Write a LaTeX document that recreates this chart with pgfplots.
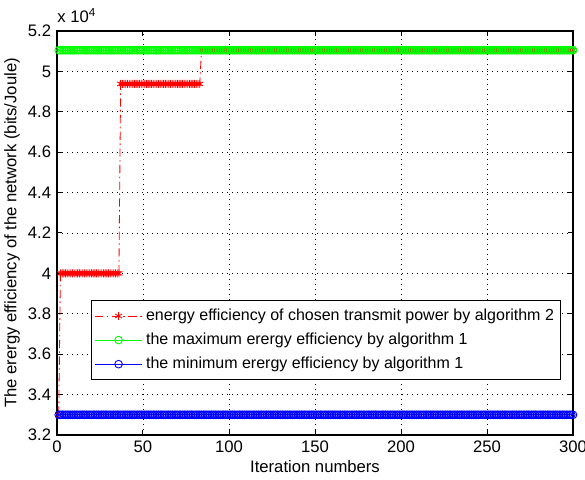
\documentclass[border=0pt]{standalone}
\usepackage{pgfplots}
\usepackage{pgfplotstable}
\pgfplotsset{compat=1.18}
\usepackage{fontspec}
\setmainfont{Liberation Sans}
\definecolor{mred}{RGB}{255,0,0}
\definecolor{mgreen}{RGB}{0,255,0}
\definecolor{mblue}{RGB}{0,0,255}
\pgfplotstableread[row sep=\\]{
x r g b\\
1 33000 51050 33000\\
2 40000 51050 33000\\ 3 40000 51050 33000\\ 4 40000 51050 33000\\ 5 40000 51050 33000\\ 6 40000 51050 33000\\
7 40000 51050 33000\\ 8 40000 51050 33000\\ 9 40000 51050 33000\\ 10 40000 51050 33000\\ 11 40000 51050 33000\\
12 40000 51050 33000\\ 13 40000 51050 33000\\ 14 40000 51050 33000\\ 15 40000 51050 33000\\ 16 40000 51050 33000\\
17 40000 51050 33000\\ 18 40000 51050 33000\\ 19 40000 51050 33000\\ 20 40000 51050 33000\\ 21 40000 51050 33000\\
22 40000 51050 33000\\ 23 40000 51050 33000\\ 24 40000 51050 33000\\ 25 40000 51050 33000\\ 26 40000 51050 33000\\
27 40000 51050 33000\\ 28 40000 51050 33000\\ 29 40000 51050 33000\\ 30 40000 51050 33000\\ 31 40000 51050 33000\\
32 40000 51050 33000\\ 33 40000 51050 33000\\ 34 40000 51050 33000\\ 35 40000 51050 33000\\ 36 40000 51050 33000\\
37 49380 51050 33000\\ 38 49380 51050 33000\\ 39 49380 51050 33000\\ 40 49380 51050 33000\\ 41 49380 51050 33000\\
42 49380 51050 33000\\ 43 49380 51050 33000\\ 44 49380 51050 33000\\ 45 49380 51050 33000\\ 46 49380 51050 33000\\
47 49380 51050 33000\\ 48 49380 51050 33000\\ 49 49380 51050 33000\\ 50 49380 51050 33000\\ 51 49380 51050 33000\\
52 49380 51050 33000\\ 53 49380 51050 33000\\ 54 49380 51050 33000\\ 55 49380 51050 33000\\ 56 49380 51050 33000\\
57 49380 51050 33000\\ 58 49380 51050 33000\\ 59 49380 51050 33000\\ 60 49380 51050 33000\\ 61 49380 51050 33000\\
62 49380 51050 33000\\ 63 49380 51050 33000\\ 64 49380 51050 33000\\ 65 49380 51050 33000\\ 66 49380 51050 33000\\
67 49380 51050 33000\\ 68 49380 51050 33000\\ 69 49380 51050 33000\\ 70 49380 51050 33000\\ 71 49380 51050 33000\\
72 49380 51050 33000\\ 73 49380 51050 33000\\ 74 49380 51050 33000\\ 75 49380 51050 33000\\ 76 49380 51050 33000\\
77 49380 51050 33000\\ 78 49380 51050 33000\\ 79 49380 51050 33000\\ 80 49380 51050 33000\\ 81 49380 51050 33000\\
82 49380 51050 33000\\ 83 49380 51050 33000\\
84 51050 51050 33000\\ 85 51050 51050 33000\\ 86 51050 51050 33000\\ 87 51050 51050 33000\\ 88 51050 51050 33000\\
89 51050 51050 33000\\ 90 51050 51050 33000\\ 91 51050 51050 33000\\ 92 51050 51050 33000\\ 93 51050 51050 33000\\
94 51050 51050 33000\\ 95 51050 51050 33000\\ 96 51050 51050 33000\\ 97 51050 51050 33000\\ 98 51050 51050 33000\\
99 51050 51050 33000\\ 100 51050 51050 33000\\ 101 51050 51050 33000\\ 102 51050 51050 33000\\ 103 51050 51050 33000\\
104 51050 51050 33000\\ 105 51050 51050 33000\\ 106 51050 51050 33000\\ 107 51050 51050 33000\\ 108 51050 51050 33000\\
109 51050 51050 33000\\ 110 51050 51050 33000\\ 111 51050 51050 33000\\ 112 51050 51050 33000\\ 113 51050 51050 33000\\
114 51050 51050 33000\\ 115 51050 51050 33000\\ 116 51050 51050 33000\\ 117 51050 51050 33000\\ 118 51050 51050 33000\\
119 51050 51050 33000\\ 120 51050 51050 33000\\ 121 51050 51050 33000\\ 122 51050 51050 33000\\ 123 51050 51050 33000\\
124 51050 51050 33000\\ 125 51050 51050 33000\\ 126 51050 51050 33000\\ 127 51050 51050 33000\\ 128 51050 51050 33000\\
129 51050 51050 33000\\ 130 51050 51050 33000\\ 131 51050 51050 33000\\ 132 51050 51050 33000\\ 133 51050 51050 33000\\
134 51050 51050 33000\\ 135 51050 51050 33000\\ 136 51050 51050 33000\\ 137 51050 51050 33000\\ 138 51050 51050 33000\\
139 51050 51050 33000\\ 140 51050 51050 33000\\ 141 51050 51050 33000\\ 142 51050 51050 33000\\ 143 51050 51050 33000\\
144 51050 51050 33000\\ 145 51050 51050 33000\\ 146 51050 51050 33000\\ 147 51050 51050 33000\\ 148 51050 51050 33000\\
149 51050 51050 33000\\ 150 51050 51050 33000\\ 151 51050 51050 33000\\ 152 51050 51050 33000\\ 153 51050 51050 33000\\
154 51050 51050 33000\\ 155 51050 51050 33000\\ 156 51050 51050 33000\\ 157 51050 51050 33000\\ 158 51050 51050 33000\\
159 51050 51050 33000\\ 160 51050 51050 33000\\ 161 51050 51050 33000\\ 162 51050 51050 33000\\ 163 51050 51050 33000\\
164 51050 51050 33000\\ 165 51050 51050 33000\\ 166 51050 51050 33000\\ 167 51050 51050 33000\\ 168 51050 51050 33000\\
169 51050 51050 33000\\ 170 51050 51050 33000\\ 171 51050 51050 33000\\ 172 51050 51050 33000\\ 173 51050 51050 33000\\
174 51050 51050 33000\\ 175 51050 51050 33000\\ 176 51050 51050 33000\\ 177 51050 51050 33000\\ 178 51050 51050 33000\\
179 51050 51050 33000\\ 180 51050 51050 33000\\ 181 51050 51050 33000\\ 182 51050 51050 33000\\ 183 51050 51050 33000\\
184 51050 51050 33000\\ 185 51050 51050 33000\\ 186 51050 51050 33000\\ 187 51050 51050 33000\\ 188 51050 51050 33000\\
189 51050 51050 33000\\ 190 51050 51050 33000\\ 191 51050 51050 33000\\ 192 51050 51050 33000\\ 193 51050 51050 33000\\
194 51050 51050 33000\\ 195 51050 51050 33000\\ 196 51050 51050 33000\\ 197 51050 51050 33000\\ 198 51050 51050 33000\\
199 51050 51050 33000\\ 200 51050 51050 33000\\ 201 51050 51050 33000\\ 202 51050 51050 33000\\ 203 51050 51050 33000\\
204 51050 51050 33000\\ 205 51050 51050 33000\\ 206 51050 51050 33000\\ 207 51050 51050 33000\\ 208 51050 51050 33000\\
209 51050 51050 33000\\ 210 51050 51050 33000\\ 211 51050 51050 33000\\ 212 51050 51050 33000\\ 213 51050 51050 33000\\
214 51050 51050 33000\\ 215 51050 51050 33000\\ 216 51050 51050 33000\\ 217 51050 51050 33000\\ 218 51050 51050 33000\\
219 51050 51050 33000\\ 220 51050 51050 33000\\ 221 51050 51050 33000\\ 222 51050 51050 33000\\ 223 51050 51050 33000\\
224 51050 51050 33000\\ 225 51050 51050 33000\\ 226 51050 51050 33000\\ 227 51050 51050 33000\\ 228 51050 51050 33000\\
229 51050 51050 33000\\ 230 51050 51050 33000\\ 231 51050 51050 33000\\ 232 51050 51050 33000\\ 233 51050 51050 33000\\
234 51050 51050 33000\\ 235 51050 51050 33000\\ 236 51050 51050 33000\\ 237 51050 51050 33000\\ 238 51050 51050 33000\\
239 51050 51050 33000\\ 240 51050 51050 33000\\ 241 51050 51050 33000\\ 242 51050 51050 33000\\ 243 51050 51050 33000\\
244 51050 51050 33000\\ 245 51050 51050 33000\\ 246 51050 51050 33000\\ 247 51050 51050 33000\\ 248 51050 51050 33000\\
249 51050 51050 33000\\ 250 51050 51050 33000\\ 251 51050 51050 33000\\ 252 51050 51050 33000\\ 253 51050 51050 33000\\
254 51050 51050 33000\\ 255 51050 51050 33000\\ 256 51050 51050 33000\\ 257 51050 51050 33000\\ 258 51050 51050 33000\\
259 51050 51050 33000\\ 260 51050 51050 33000\\ 261 51050 51050 33000\\ 262 51050 51050 33000\\ 263 51050 51050 33000\\
264 51050 51050 33000\\ 265 51050 51050 33000\\ 266 51050 51050 33000\\ 267 51050 51050 33000\\ 268 51050 51050 33000\\
269 51050 51050 33000\\ 270 51050 51050 33000\\ 271 51050 51050 33000\\ 272 51050 51050 33000\\ 273 51050 51050 33000\\
274 51050 51050 33000\\ 275 51050 51050 33000\\ 276 51050 51050 33000\\ 277 51050 51050 33000\\ 278 51050 51050 33000\\
279 51050 51050 33000\\ 280 51050 51050 33000\\ 281 51050 51050 33000\\ 282 51050 51050 33000\\ 283 51050 51050 33000\\
284 51050 51050 33000\\ 285 51050 51050 33000\\ 286 51050 51050 33000\\ 287 51050 51050 33000\\ 288 51050 51050 33000\\
289 51050 51050 33000\\ 290 51050 51050 33000\\ 291 51050 51050 33000\\ 292 51050 51050 33000\\ 293 51050 51050 33000\\
294 51050 51050 33000\\ 295 51050 51050 33000\\ 296 51050 51050 33000\\ 297 51050 51050 33000\\ 298 51050 51050 33000\\
299 51050 51050 33000\\ 300 51050 51050 33000\\
}\datatable
\begin{document}
\begin{tikzpicture}
\begin{axis}[
  name=ax,
  scale only axis,
  width=309.6pt, height=242.4pt,
  xmin=0, xmax=300, ymin=32000, ymax=52000,
  xtick={0,50,...,300},
  ytick={32000,34000,...,52000},
  scaled y ticks=base 10:-4,
  ytick scale label code/.code={},
  /pgf/number format/assume math mode=true,
  tick align=inside,
  major tick length=3pt,
  axis line style={line width=0.8pt},
  every tick/.style={black, line width=0.6pt},
  grid=major,
  major grid style={black, line width=0.4pt, dash pattern=on 0.5pt off 2.5pt},
  xlabel={Iteration numbers},
  ylabel={The erergy efficiency of the network (bits/Joule)},
  xlabel style={yshift=2pt},
  ylabel style={yshift=-2pt},
  legend cell align=left,
  legend image code/.code={\draw[mark repeat=2, mark phase=2] plot coordinates {(0cm,0cm) (0.5cm,0cm) (1cm,0cm)};},
  legend style={at={(rel axis cs:0.977,0.136)}, anchor=south east, draw=black, line width=0.6pt, row sep=2pt, inner xsep=2pt, inner ysep=3pt, font=\fontsize{9.6}{11.5}\selectfont},
]
\addplot[mred, line width=0.5pt, dash pattern=on 5pt off 2pt on 1pt off 2pt, mark=asterisk, mark size=2.4pt, mark options={solid, line width=0.5pt}] table[x=x, y=r] {\datatable};
\addlegendentry{energy efficiency of chosen transmit power by algorithm 2}
\addplot[mgreen, line width=0.5pt, mark=o, mark size=2.3pt, mark options={solid, line width=0.55pt}] table[x=x, y=g] {\datatable};
\addlegendentry{the maximum erergy efficiency by algorithm 1}
\addplot[mblue, line width=0.5pt, mark=o, mark size=2.3pt, mark options={solid, line width=0.55pt}] table[x=x, y=b] {\datatable};
\addlegendentry{the minimum erergy efficiency by algorithm 1}
\end{axis}
\node[anchor=south west, inner sep=0pt] at ([yshift=4.5pt]ax.north west) {x 10\textsuperscript{4}};
\pgfresetboundingbox
\path ([xshift=-34.2pt,yshift=-27pt]ax.south west) rectangle ([xshift=7.2pt,yshift=18.6pt]ax.north east);
\end{tikzpicture}
\end{document}
